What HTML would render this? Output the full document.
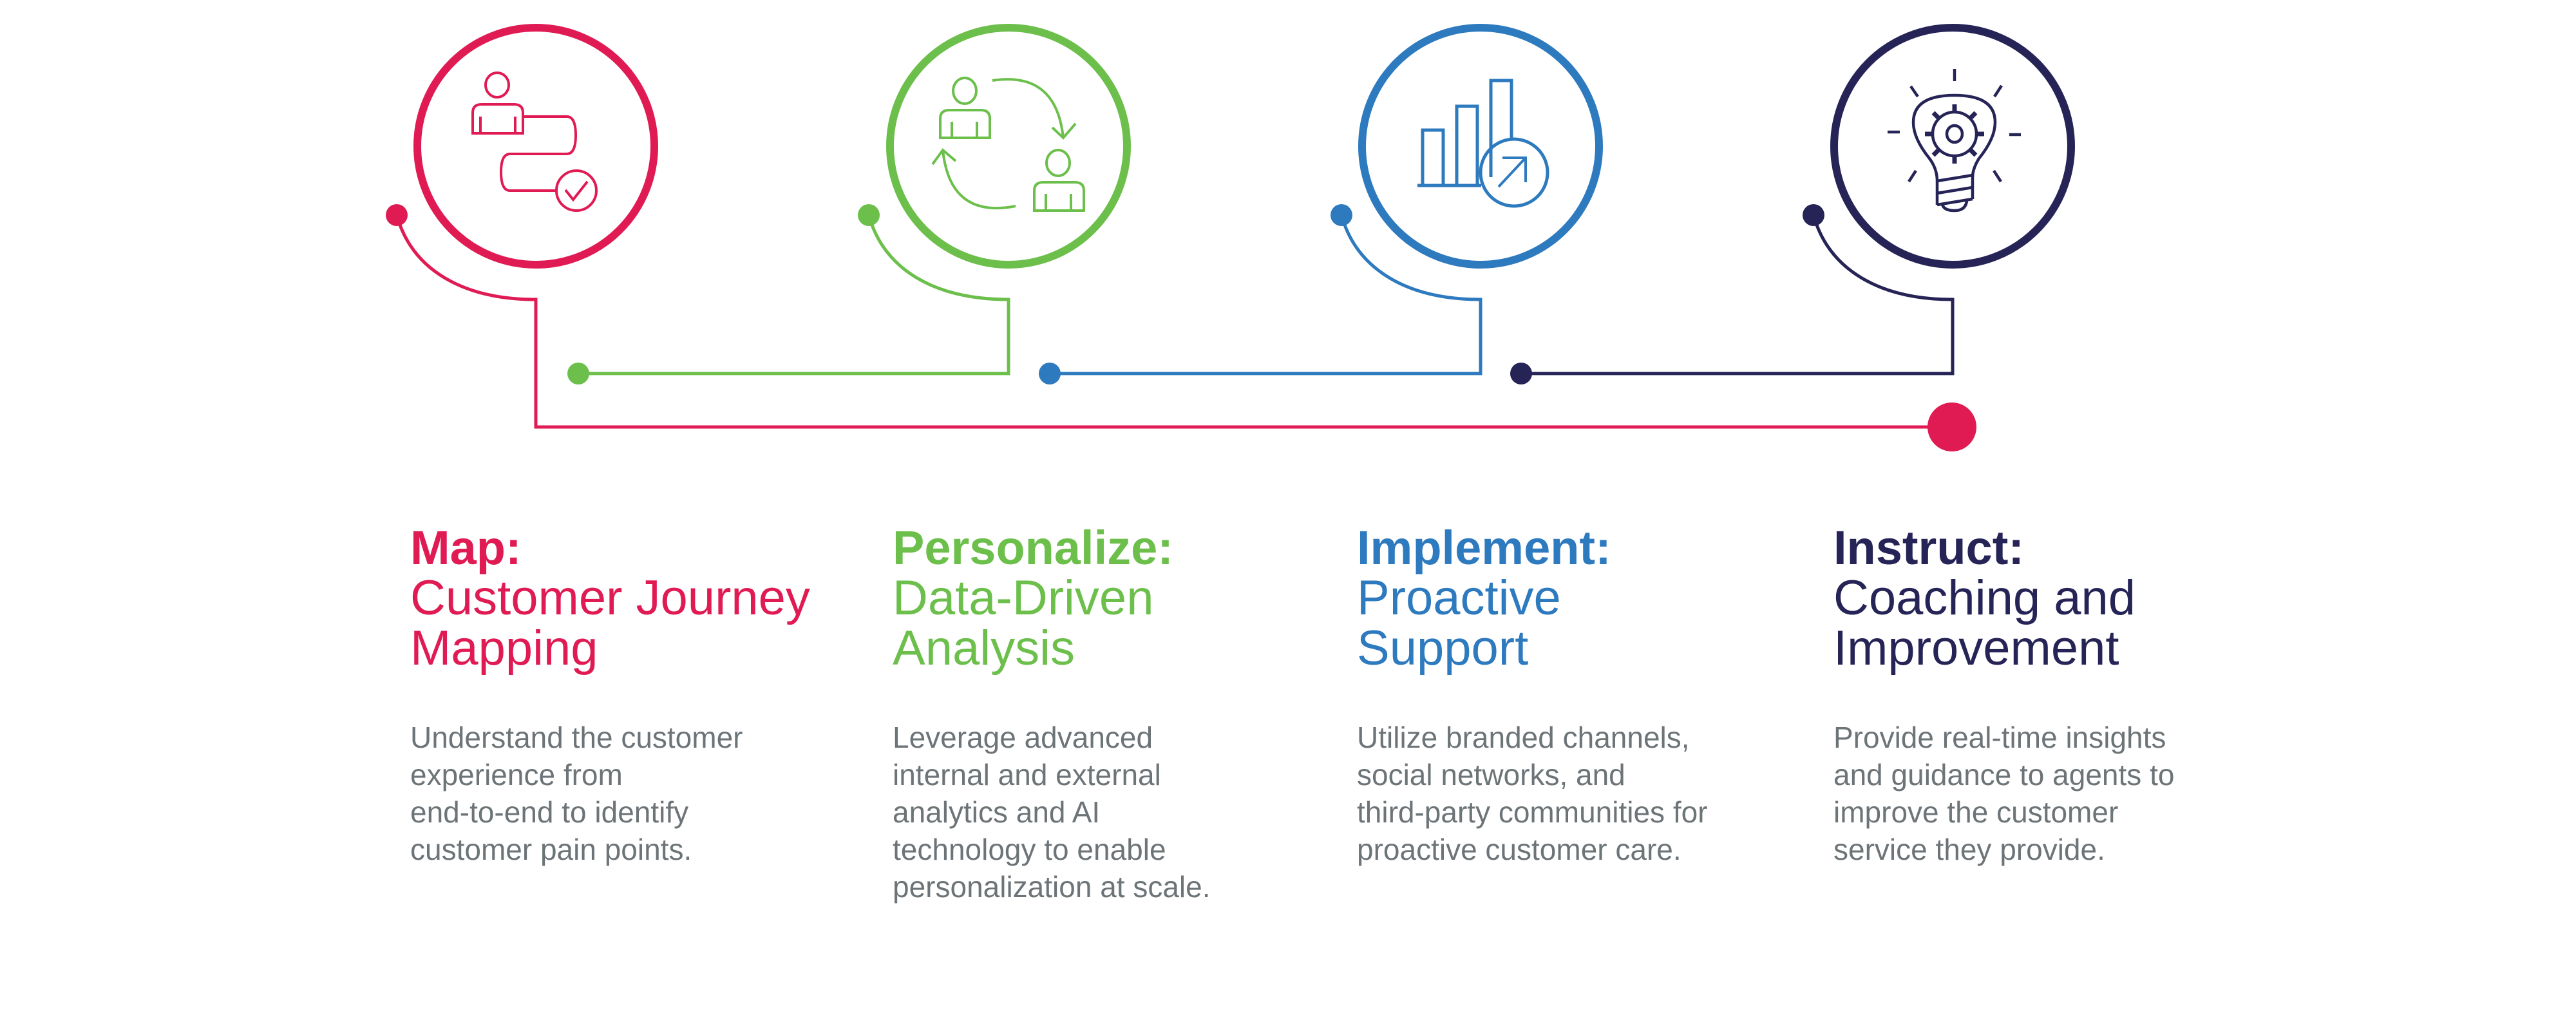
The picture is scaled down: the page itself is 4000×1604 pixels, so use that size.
<!DOCTYPE html>
<html><head><meta charset="utf-8"><style>
html,body{margin:0;padding:0;background:#fff;}
svg{display:block}
text{font-family:"Liberation Sans",sans-serif}
.b{font-size:46px;fill:#6d7478}
.h{font-size:76px}
.hb{font-size:74px;font-weight:bold}
</style></head><body>
<svg width="4000" height="1604" viewBox="0 0 4000 1604" xmlns="http://www.w3.org/2000/svg">
<g fill="none" stroke-width="5">
 <path d="M616,334 C640,420 720,465 832,465 L832,663 L3031,663" stroke="#e01b54"/>
 <path d="M1349,334 C1373,420 1453,465 1566,465 L1566,580 L898,580" stroke="#6cbf4b"/>
 <path d="M2083,334 C2107,420 2187,465 2299,465 L2299,580 L1630,580" stroke="#2e7abf"/>
 <path d="M2816,334 C2840,420 2920,465 3032,465 L3032,580 L2362,580" stroke="#262456"/>
</g>
<circle cx="616" cy="334" r="17" fill="#e01b54"/>
<circle cx="1349" cy="334" r="17" fill="#6cbf4b"/>
<circle cx="2083" cy="334" r="17" fill="#2e7abf"/>
<circle cx="2816" cy="334" r="17" fill="#262456"/>
<circle cx="898" cy="580" r="17" fill="#6cbf4b"/>
<circle cx="1630" cy="580" r="17" fill="#2e7abf"/>
<circle cx="2362" cy="580" r="17" fill="#262456"/>
<circle cx="3031" cy="663" r="38" fill="#e01b54"/>
<g fill="none" stroke-width="12">
 <circle cx="832" cy="227" r="184" stroke="#e01b54"/>
 <circle cx="1566" cy="227" r="184" stroke="#6cbf4b"/>
 <circle cx="2299" cy="227" r="184" stroke="#2e7abf"/>
 <circle cx="3032" cy="227" r="184" stroke="#262456"/>
</g>
<g fill="none" stroke="#e01b54" stroke-width="4">
 <ellipse cx="772" cy="132" rx="18" ry="19"/>
 <path d="M734,207 V175 Q734,162 748,162 H798 Q812,162 812,175 V207 Z M746,181 V207 M800,181 V207"/>
 <path d="M812,181 H880 Q894,181 894,210 Q894,239 880,239 H792 Q778,239 778,267 Q778,296 792,296 H864"/>
 <circle cx="895" cy="296" r="31"/>
 <path d="M878,295 L890,310 L912,282"/>
</g>
<g fill="none" stroke="#6cbf4b" stroke-width="4">
 <ellipse cx="1498" cy="141" rx="18" ry="20"/>
 <path d="M1460,214 V184 Q1460,171 1474,171 H1523 Q1537,171 1537,184 V214 Z M1478,189 V214 M1517,189 V214"/>
 <ellipse cx="1643" cy="253" rx="18" ry="20"/>
 <path d="M1606,327 V296 Q1606,283 1620,283 H1669 Q1683,283 1683,296 V327 Z M1624,301 V327 M1663,301 V327"/>
 <path d="M1541,125 Q1640,110 1651,214 M1634,198 L1651,214 L1670,192"/>
 <path d="M1577,320 Q1475,340 1464,233 M1448,255 L1464,233 L1484,250"/>
</g>
<g fill="none" stroke="#2e7abf" stroke-width="5">
 <rect x="2209" y="202" width="32" height="86"/>
 <rect x="2262" y="165" width="32" height="123"/>
 <path d="M2315,275 V125 H2347 V217"/>
 <path d="M2201,288 H2300"/>
 <circle cx="2351" cy="268" r="52"/>
 <path d="M2327,290 L2369,245 M2333,245 H2369 V283" stroke-width="4"/>
</g>
<g fill="none" stroke="#262456" stroke-width="4.5">
 <path d="M3035,107 V126 M2931,205 H2950 M3120,209 H3138 M2967,134 L2978,150 M3108,133 L3097,150 M2964,282 L2975,265 M3107,282 L3096,265"/>
 <path d="M3008,281 Q3008,262 2996,246 Q2971,215 2971,190 Q2971,148 3035,148 Q3098,148 3098,190 Q3098,215 3073,246 Q3063,262 3063,275"/>
 <path d="M3008,281 L3063,272 M3008,300 L3063,291 M3008,318 L3063,309 M3008,281 V318 M3063,272 V309"/>
 <path d="M3016,317 Q3018,327 3035,327 Q3052,327 3054,312"/>
 <circle cx="3035" cy="208" r="34"/>
 <ellipse cx="3035" cy="208" rx="12" ry="13"/>
 <g stroke-width="7">
 <path d="M3035,162 V174 M3035,242 V254 M2989,208 H3001 M3069,208 H3081 M3002,175 L3011,184 M3059,232 L3068,241 M3068,175 L3059,184 M3011,232 L3002,241"/>
 </g>
</g>
<g>
 <text class="hb" x="637" y="876" fill="#e01b54">Map:</text>
 <text class="h" x="637" y="954" fill="#e01b54">Customer Journey</text>
 <text class="h" x="637" y="1032" fill="#e01b54">Mapping</text>
 <text class="b" x="637" y="1161">Understand the customer</text>
 <text class="b" x="637" y="1219">experience from</text>
 <text class="b" x="637" y="1277">end-to-end to identify</text>
 <text class="b" x="637" y="1335">customer pain points.</text>

 <text class="hb" x="1386" y="876" fill="#6cbf4b">Personalize:</text>
 <text class="h" x="1386" y="954" fill="#6cbf4b">Data-Driven</text>
 <text class="h" x="1386" y="1032" fill="#6cbf4b">Analysis</text>
 <text class="b" x="1386" y="1161">Leverage advanced</text>
 <text class="b" x="1386" y="1219">internal and external</text>
 <text class="b" x="1386" y="1277">analytics and AI</text>
 <text class="b" x="1386" y="1335">technology to enable</text>
 <text class="b" x="1386" y="1393">personalization at scale.</text>

 <text class="hb" x="2107" y="876" fill="#2e7abf">Implement:</text>
 <text class="h" x="2107" y="954" fill="#2e7abf">Proactive</text>
 <text class="h" x="2107" y="1032" fill="#2e7abf">Support</text>
 <text class="b" x="2107" y="1161">Utilize branded channels,</text>
 <text class="b" x="2107" y="1219">social networks, and</text>
 <text class="b" x="2107" y="1277">third-party communities for</text>
 <text class="b" x="2107" y="1335">proactive customer care.</text>

 <text class="hb" x="2847" y="876" fill="#262456">Instruct:</text>
 <text class="h" x="2847" y="954" fill="#262456">Coaching and</text>
 <text class="h" x="2847" y="1032" fill="#262456">Improvement</text>
 <text class="b" x="2847" y="1161">Provide real-time insights</text>
 <text class="b" x="2847" y="1219">and guidance to agents to</text>
 <text class="b" x="2847" y="1277">improve the customer</text>
 <text class="b" x="2847" y="1335">service they provide.</text>
</g>
</svg>
</body></html>
